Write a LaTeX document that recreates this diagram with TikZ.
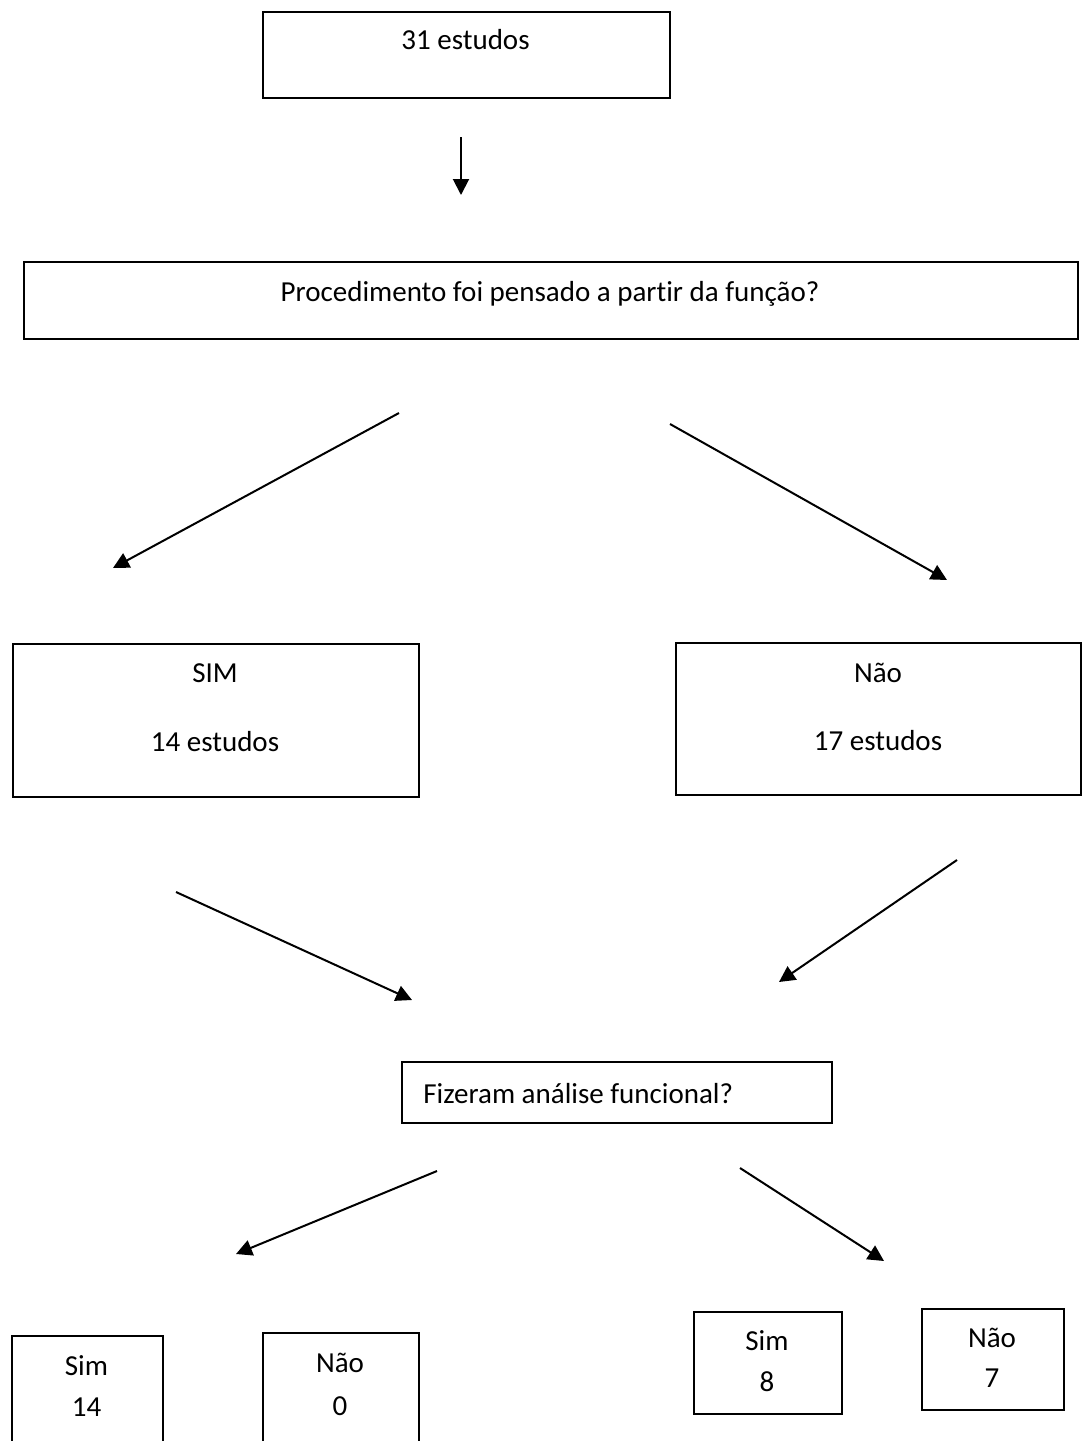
\documentclass[tikz,border=0pt]{standalone}
\usepackage{fontspec}
\setmainfont{Carlito}[Ligatures=NoCommon]
\usetikzlibrary{positioning, arrows.meta, calc}

\begin{document}
\begin{tikzpicture}[
  x=0.5pt, y=-0.5pt,
  box/.style  = {draw, line width=1pt, anchor=north west, inner sep=0pt},
  txt/.style  = {font=\fontsize{14.5}{17}\selectfont, anchor=base, inner sep=0pt},
  flow/.style = {-{Triangle[length=8pt, width=8pt]}, line width=1pt},
]
\useasboundingbox (0,0) rectangle (1082,1441);

% --- boxes ---------------------------------------------------------------
\node[box, minimum width=203.5pt, minimum height=43pt]   (total) at (262,11)   {};
\node[box, minimum width=527pt,   minimum height=38.5pt] (quest) at (23,261)   {};
\node[box, minimum width=203pt,   minimum height=76.5pt] (sim)   at (12,643)   {};
\node[box, minimum width=202.5pt, minimum height=76pt]   (nao)   at (675,642)  {};
\node[box, minimum width=215pt,   minimum height=30.5pt] (func)  at (401,1061) {};
\node[box, minimum width=75.5pt,  minimum height=67.5pt] (simA)  at (11,1335)  {};
\node[box, minimum width=78pt,    minimum height=69pt]   (naoA)  at (262,1332) {};
\node[box, minimum width=74pt,    minimum height=51pt]   (simB)  at (693,1311) {};
\node[box, minimum width=71pt,    minimum height=50.5pt] (naoB)  at (921,1308) {};

% --- texts ---------------------------------------------------------------
\node[txt] (total-t) at (465.5,49) {31 estudos};
\node[txt] (quest-t) at (550,301)  {Procedimento foi pensado a partir da função?};
\node[txt] (sim-t1)  at (215,682)  {SIM};
\node[txt] (sim-t2)  at (215,751)  {14 estudos};
\node[txt] (nao-t1)  at (878,682)  {Não};
\node[txt] (nao-t2)  at (878,750)  {17 estudos};
\node[txt, anchor=base west] (func-t) at (423,1103) {Fizeram análise funcional?};
\node[txt] (simA-t1) at (86.5,1375) {Sim};
\node[txt] (simA-t2) at (86.5,1416) {14};
\node[txt] (naoA-t1) at (340,1372)  {Não};
\node[txt] (naoA-t2) at (340,1415)  {0};
\node[txt] (simB-t1) at (767,1350)  {Sim};
\node[txt] (simB-t2) at (767,1391)  {8};
\node[txt] (naoB-t1) at (992,1347)  {Não};
\node[txt] (naoB-t2) at (992,1387)  {7};

% --- arrow ends ----------------------------------------------------------
\coordinate (d0) at (461,137);  \coordinate (d1) at (461,195);
\coordinate (l0) at (399,413);  \coordinate (l1) at (113,568);
\coordinate (r0) at (670,424);  \coordinate (r1) at (947,580);
\coordinate (s0) at (176,892);  \coordinate (s1) at (412,1000);
\coordinate (n0) at (957,860);  \coordinate (n1) at (779,982);
\coordinate (f0) at (437,1171); \coordinate (f1) at (236,1254);
\coordinate (g0) at (740,1168); \coordinate (g1) at (884,1261);

% --- arrows --------------------------------------------------------------
\draw[flow] (d0) -- (d1);
\draw[flow] (l0) -- (l1);
\draw[flow] (r0) -- (r1);
\draw[flow] (s0) -- (s1);
\draw[flow] (n0) -- (n1);
\draw[flow] (f0) -- (f1);
\draw[flow] (g0) -- (g1);

\end{tikzpicture}
\end{document}
